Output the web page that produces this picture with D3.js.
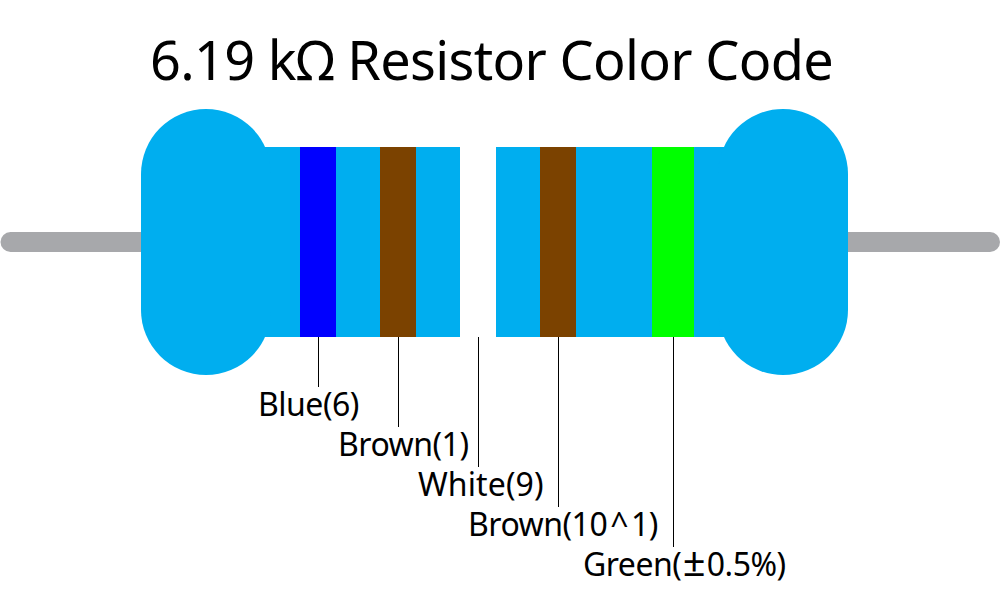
<!DOCTYPE html>
<html>
<head>
<meta charset="utf-8">
<title>6.19 kΩ Resistor Color Code</title>
<script src="https://cdn.jsdelivr.net/npm/d3@7"></script>
<style>
    html, body { margin: 0; padding: 0; background: #fff; }
    svg { display: block; }
    text { font-family: "Noto Sans", "Open Sans", sans-serif; fill: #000; }
</style>
</head>
<body>
<script>
// Chart values
var title = "6.19 kΩ Resistor Color Code";
var bandNames = ["Blue", "Brown", "White", "Brown", "Green"];
var bandValues = ["6", "1", "9", "10^1", "±0.5%"];
var bandColors = ["#0000ff", "#7b4200", "#ffffff", "#7b4200", "#00ff00"];
var bandSlots = [0, 1, 2, 3, 4.4]; // tolerance band sits further along the body

// Begin script when window loads
window.onload = drawResistor;

function drawResistor(){

    // Frame dimensions
    var width = 1006,
        height = 607;

    var svg = d3.select("body")
        .append("svg")
        .attr("width", width)
        .attr("height", height);

    // Band slot -> left edge of the band
    var x = d3.scaleLinear()
        .domain([0, 4])
        .range([300, 620]);

    // Label row -> bottom of its leader line
    var leaderEnd = d3.scaleLinear()
        .domain([0, 4])
        .range([387, 547]);

    // Left edge of each label, they do not line up with the leaders
    var labelLeft = [258, 338, 418, 468, 583];

    function bandWidth(i){
        return i === bandNames.length - 1 ? 42 : 36;
    }

    // Leads
    svg.append("rect")
        .attr("x", 0.5)
        .attr("y", 232)
        .attr("width", 999.5)
        .attr("height", 20)
        .attr("rx", 10)
        .attr("fill", "#a7a8ab");

    // Body and the two end caps
    svg.append("rect")
        .attr("x", 200)
        .attr("y", 147)
        .attr("width", 580)
        .attr("height", 190)
        .attr("fill", "#00aeef");

    svg.selectAll(".cap")
        .data([141, 718])
        .enter()
        .append("rect")
        .attr("class", "cap")
        .attr("x", function(d){ return d; })
        .attr("y", 109)
        .attr("width", 130)
        .attr("height", 266)
        .attr("rx", 65)
        .attr("ry", 65)
        .attr("fill", "#00aeef");

    // Colour bands
    svg.selectAll(".band")
        .data(bandSlots)
        .enter()
        .append("rect")
        .attr("class", "band")
        .attr("x", function(d){ return x(d); })
        .attr("y", 147)
        .attr("width", function(d, i){ return bandWidth(i); })
        .attr("height", 190)
        .attr("fill", function(d, i){ return bandColors[i]; });

    // Leader lines
    svg.selectAll(".leader")
        .data(bandSlots)
        .enter()
        .append("line")
        .attr("class", "leader")
        .attr("x1", function(d, i){ return x(d) + bandWidth(i) / 2 + 0.5; })
        .attr("x2", function(d, i){ return x(d) + bandWidth(i) / 2 + 0.5; })
        .attr("y1", 337)
        .attr("y2", function(d, i){ return leaderEnd(i); })
        .attr("stroke", "#000")
        .attr("stroke-width", 1);

    // Labels
    var labels = svg.selectAll(".label")
        .data(bandNames)
        .enter()
        .append("text")
        .attr("class", "label")
        .attr("x", function(d, i){ return labelLeft[i]; })
        .attr("y", function(d, i){ return leaderEnd(i) + 29; })
        .attr("font-size", 32)
        .attr("letter-spacing", function(d){ return d === "White" ? 0.1 : -0.5; });

    // ^ and ± are wider in the original, so give them more room
    var symbolPad = { "^": 3, "±": 1.5 };

    labels.each(function(d, i){
        var parts = (d + "(" + bandValues[i] + ")").split(/([\^±])/);
        var label = d3.select(this);
        parts.forEach(function(part, j){
            var pad = symbolPad[part] || symbolPad[parts[j - 1]] || 0;
            label.append("tspan")
                .attr("dx", pad)
                .attr("font-size", part === "±" ? 40 : null)
                .text(part);
        });
    });

    // Title
    svg.append("text")
        .attr("x", 491.5)
        .attr("y", 80)
        .attr("text-anchor", "middle")
        .attr("font-size", 54)
        .attr("letter-spacing", -0.67)
        .text(title);
}
</script>
</body>
</html>
